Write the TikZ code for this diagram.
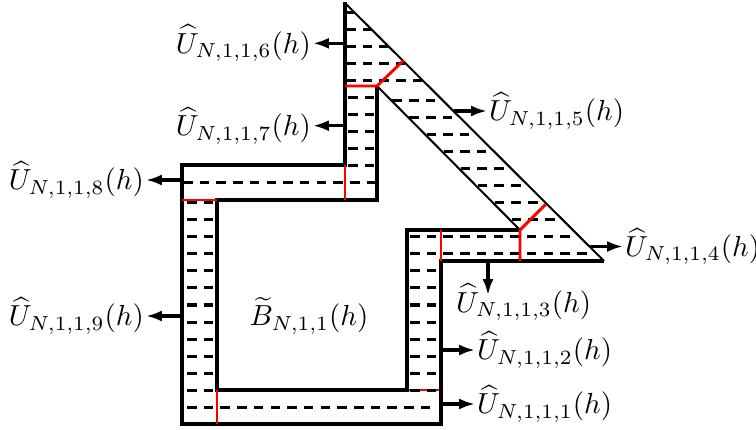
\documentclass[tikz,border=0pt]{standalone}
\usepackage{amsmath}
\usetikzlibrary{arrows.meta}
\begin{document}
\begin{tikzpicture}[x=0.3448pt,y=-0.3448pt,
  wall/.style={line width=1.05pt, line join=miter},
  diagline/.style={line width=0.7pt},
  divider/.style={red, line width=1pt},
  hatch/.style={line width=1.05pt, dash pattern=on 3.28pt off 2.48pt},
  arr/.style={line width=1.05pt, -{Latex[length=5.5pt,width=3.8pt]}},
  lab/.style={inner sep=0.5pt}]
\useasboundingbox (0,0) rectangle (756,429);

% red divider under the hatch
\draw[divider] (407,390) -- (441,390);

% ---- hatching, family A
\draw[hatch] (187,407.3) -- (436,407.3);
\foreach \k in {1,...,12} \draw[hatch] (187,{407.3-17.05*\k}) -- (214,{407.3-17.05*\k});
\foreach \k in {1,...,8} \draw[hatch] (410,{407.3-17.05*\k}) -- (438,{407.3-17.05*\k});
\foreach \k in {9,10} {\pgfmathsetmacro\yy{407.3-17.05*\k}
  \draw[hatch] (410,\yy) -- ({\yy+336},\yy);}
\foreach \k in {11,...,18} {\pgfmathsetmacro\yy{407.3-17.05*\k}
  \draw[hatch] ({\yy+292},\yy) -- ({\yy+338},\yy);}
% ---- hatching, family B
\draw[hatch] (183,182.7) -- (377,182.7);
\foreach \j in {1,...,5} \draw[hatch] (348,{182.7-17.05*\j}) -- (375,{182.7-17.05*\j});
\foreach \j in {6,...,10} {\pgfmathsetmacro\yy{182.7-17.05*\j}
  \draw[hatch] (346,\yy) -- ({\yy+342},\yy);}

% ---- walls
\draw[wall] (345,2) -- (345,165) -- (182,165) -- (182,424) -- (441,424) -- (441,261) -- (604,261);
\draw[wall] (377,86) -- (377,200) -- (217,200) -- (217,390) -- (407,390) -- (407,230) -- (520,230);
\draw[diagline] (345,3) -- (604,261);
\draw[diagline] (377,86) -- (520,230);

% ---- red dividers
\draw[divider] (345,86) -- (377,86) -- (403.5,60.5);
\draw[divider] (345,165) -- (345,200);
\draw[divider] (182,200) -- (217,200);
\draw[divider] (217,390) -- (217,424);
\draw[divider] (441,230) -- (441,261);
\draw[divider] (520,261) -- (520,230) -- (546,204);

% ---- labels and arrows
\node[lab,anchor=east] (u6) at (313,43.3) {$\widehat{U}_{N,1,1,6}(h)$};
\node[lab,anchor=east] (u7) at (313,125.7) {$\widehat{U}_{N,1,1,7}(h)$};
\node[lab,anchor=east] (u8) at (146,180) {$\widehat{U}_{N,1,1,8}(h)$};
\node[lab,anchor=east] (u9) at (146,316) {$\widehat{U}_{N,1,1,9}(h)$};
\node[lab,anchor=west] (u5) at (487,111) {$\widehat{U}_{N,1,1,5}(h)$};
\node[lab,anchor=west] (u4) at (623,246.5) {$\widehat{U}_{N,1,1,4}(h)$};
\node[lab,anchor=north west] (u3) at (454,282) {$\widehat{U}_{N,1,1,3}(h)$};
\node[lab,anchor=west] (u2) at (475,350) {$\widehat{U}_{N,1,1,2}(h)$};
\node[lab,anchor=west] (u1) at (475,404) {$\widehat{U}_{N,1,1,1}(h)$};
\node[lab] (b) at (309,316) {$\widetilde{B}_{N,1,1}(h)$};

\coordinate (s6) at (345,43.3);
\coordinate (s7) at (345,125.7);
\coordinate (s8) at (182,180);
\coordinate (s9) at (182,316);
\coordinate (s5) at (454,111);
\coordinate (s4) at (590,246.5);
\coordinate (s3) at (488,261);
\coordinate (t3) at (488,295);
\coordinate (s2) at (441,350);
\coordinate (s1) at (441,404);

\draw[arr] (s6) -- (u6.east);
\draw[arr] (s7) -- (u7.east);
\draw[arr] (s8) -- (u8.east);
\draw[arr] (s9) -- (u9.east);
\draw[arr] (s5) -- (u5.west);
\draw[arr] (s4) -- (u4.west);
\draw[arr] (s3) -- (t3);
\draw[arr] (s2) -- (u2.west);
\draw[arr] (s1) -- (u1.west);
\end{tikzpicture}
\end{document}
